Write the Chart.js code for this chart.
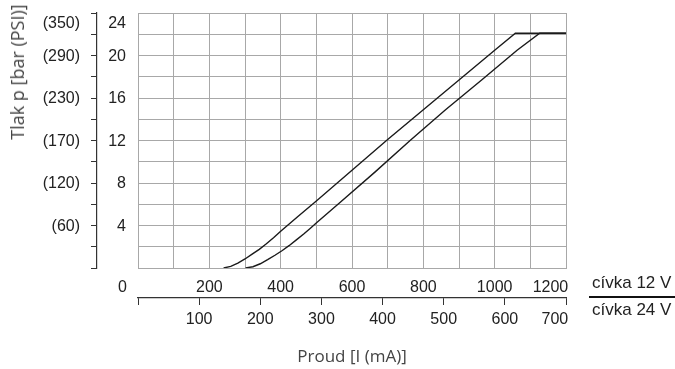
<!DOCTYPE html>
<html>
<head>
<meta charset="utf-8">
<script src="https://cdn.jsdelivr.net/npm/chart.js@4.4.1/dist/chart.umd.min.js"></script>
<style>
  body { margin: 0; background: #fff; }
  #wrap { position: relative; width: 675px; height: 369px; }
  #yTitle {
    position: absolute; left: 17px; top: 72px;
    transform: translate(-50%, -50%) rotate(-90deg);
    font: 400 18px 'Open Sans', sans-serif; color: #444; white-space: nowrap;
  }
  .coil { position: absolute; left: 592px; font: 17px 'Liberation Sans', Arial, sans-serif; color: #222; white-space: nowrap; }
  #coilLine { position: absolute; left: 589px; top: 296px; width: 86px; height: 2px; background: #111; }
</style>
</head>
<body>
<div id="wrap">
  <canvas id="valveChart" width="675" height="369"></canvas>
  <div id="yTitle">Tlak p [bar (PSI)]</div>
  <div class="coil" style="top:273px">cívka 12 V</div>
  <div id="coilLine"></div>
  <div class="coil" style="top:300px">cívka 24 V</div>
</div>
<script>
// proud cívky 12 V [mA] a tlak [bar]
const coil12Current  = [240, 260, 280, 300, 320, 340, 360, 380, 400, 450, 500, 600, 700, 800, 900, 1000, 1058, 1200];
const coil12Pressure = [0, 0.15, 0.45, 0.85, 1.3, 1.75, 2.28, 2.85, 3.45, 4.9, 6.3, 9.2, 12.1, 14.9, 17.7, 20.5, 22.1, 22.1];

// proud cívky 24 V [mA] a tlak [bar]
const coil24Current  = [176, 188, 200, 212, 224, 236, 247, 259, 271, 282, 292, 310, 328, 387, 445, 503, 562, 620, 657, 700];
const coil24Pressure = [0, 0.12, 0.4, 0.78, 1.2, 1.65, 2.1, 2.65, 3.2, 3.75, 4.25, 5.15, 6.05, 9.0, 12.0, 14.9, 17.7, 20.5, 22.1, 22.1];

// popisky os
const barTicks = [4, 8, 12, 16, 20, 24];
const psiLabels = ['(60)', '(120)', '(170)', '(230)', '(290)', '(350)'];
const current12Ticks = [0, 200, 400, 600, 800, 1000, 1200];
const current24Ticks = [100, 200, 300, 400, 500, 600, 700];

const tickFont = { family: "'Liberation Sans', Arial, sans-serif", size: 16 };
const gridGray = '#a8a8a8';
const axisDark = '#333';

function toPoints(xs, ys) {
    return xs.map((x, i) => ({ x: x, y: ys[i] }));
}

// krajni popisky jsou v predloze posunute dovnitr
function edgeLabel(text, pad) {
    return text + ' '.repeat(pad);
}

function noSidePadding(s) {
    s.paddingTop = 0;
    s.paddingBottom = 0;
    s.paddingLeft = 0;
    s.paddingRight = 0;
}

const ctx = document.getElementById('valveChart').getContext('2d');
const valveChart = new Chart(ctx, {
    type: 'line',
    data: {
        datasets: [
            {
                label: 'cívka 12 V',
                data: toPoints(coil12Current, coil12Pressure),
                xAxisID: 'x',
                yAxisID: 'y',
                borderColor: '#1a1a1a',
                borderWidth: 1.4,
                pointRadius: 0,
                tension: 0,
                fill: false
            },
            {
                label: 'cívka 24 V',
                data: toPoints(coil24Current, coil24Pressure),
                xAxisID: 'x2',
                yAxisID: 'y',
                borderColor: '#1a1a1a',
                borderWidth: 1.4,
                pointRadius: 0,
                tension: 0,
                fill: false
            }
        ]
    },
    options: {
        responsive: false,
        animation: false,
        devicePixelRatio: 1,
        layout: { padding: { top: 13, right: 109, left: 0, bottom: 0 } },
        plugins: {
            legend: { display: false },
            tooltip: { enabled: false }
        },
        scales: {
            x: {
                type: 'linear',
                position: 'bottom',
                weight: 0,
                min: 0,
                max: 1200,
                ticks: {
                    stepSize: 100,
                    autoSkip: false,
                    maxRotation: 0,
                    padding: 10,
                    color: '#222',
                    font: tickFont,
                    callback: v => {
                        if (!current12Ticks.includes(v)) return '';
                        if (v === 0) return edgeLabel('0', 7);
                        if (v === 1200) return edgeLabel('1200', 7);
                        return String(v);
                    }
                },
                grid: { color: gridGray, lineWidth: 1, drawTicks: false },
                border: { display: true, color: gridGray, width: 1 },
                afterFit: s => { s.height = 30; noSidePadding(s); }
            },
            x2: {
                type: 'linear',
                position: 'bottom',
                weight: 1,
                min: 0,
                max: 700,
                ticks: {
                    stepSize: 100,
                    autoSkip: false,
                    maxRotation: 0,
                    padding: 5,
                    color: '#222',
                    font: tickFont,
                    callback: v => {
                        if (!current24Ticks.includes(v)) return '';
                        return v === 700 ? edgeLabel('700', 5) : String(v);
                    }
                },
                grid: { drawOnChartArea: false, drawTicks: true, tickLength: 7, color: axisDark, lineWidth: 1 },
                border: { display: true, color: axisDark, width: 1.2 },
                title: {
                    display: true,
                    text: 'Proud [I (mA)]',
                    color: '#444',
                    font: { family: "'Open Sans', sans-serif", size: 17, weight: 400 },
                    padding: { top: 0, bottom: 2 }
                },
                afterFit: s => { s.height = 71; noSidePadding(s); }
            },
            y: {
                type: 'linear',
                position: 'left',
                weight: 0,
                min: 0,
                max: 24,
                ticks: {
                    stepSize: 2,
                    autoSkip: false,
                    padding: 12,
                    labelOffset: 1,
                    color: '#222',
                    font: tickFont,
                    callback: v => {
                        if (!barTicks.includes(v)) return '';
                        return v === 24 ? ['', '24'] : String(v);
                    }
                },
                grid: { color: gridGray, lineWidth: 1, drawTicks: false },
                border: { display: true, color: gridGray, width: 1 },
                afterFit: s => { s.width = 41; noSidePadding(s); }
            },
            y2: {
                type: 'linear',
                position: 'left',
                weight: 1,
                min: 0,
                max: 24,
                ticks: {
                    stepSize: 2,
                    autoSkip: false,
                    padding: 11,
                    labelOffset: 1,
                    color: '#222',
                    font: tickFont,
                    callback: v => {
                        const i = barTicks.indexOf(v);
                        if (i < 0) return '';
                        return v === 24 ? ['', psiLabels[i]] : psiLabels[i];
                    }
                },
                grid: { drawOnChartArea: false, drawTicks: true, tickLength: 6, color: axisDark, lineWidth: 1 },
                border: { display: true, color: axisDark, width: 1.2 },
                afterFit: s => { s.width = 97; noSidePadding(s); }
            }
        }
    }
});
</script>
</body>
</html>
